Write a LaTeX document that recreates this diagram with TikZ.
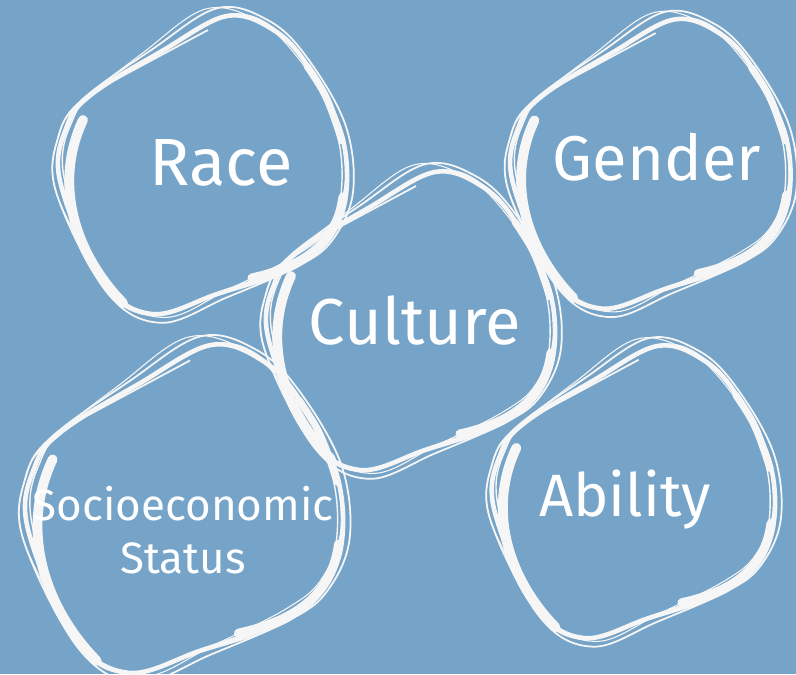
\documentclass[tikz,border=0pt]{standalone}
\usepackage{fontspec}
\setmainfont{Fira Sans}
\usepackage{tikz}
\usetikzlibrary{positioning}

\definecolor{bgblue}{RGB}{118,164,200}
\definecolor{chalk}{RGB}{246,246,246}

% outline of one hand drawn loop, centred on the origin
\newcommand{\blobpts}{(0.30,1.50) (0.78,1.35) (1.12,0.98) (1.45,0.30) (1.48,-0.35)
  (1.25,-0.80) (0.90,-1.03) (0.20,-1.28) (-0.45,-1.48) (-0.95,-1.15)
  (-1.37,-0.15) (-1.30,0.40) (-1.05,0.72) (-0.35,1.15)}

% several passes of the loop around a centre #1, scaled by #2
\newcommand{\scribble}[2]{%
  \begin{scope}[shift={#1},scale=#2]
    \draw[chalk,line width=1.3pt] plot[smooth cycle,tension=0.6] coordinates {\blobpts};
    \draw[chalk,line width=0.5pt,rotate=4,scale=1.04] plot[smooth cycle,tension=0.6] coordinates {\blobpts};
    \draw[chalk,line width=0.4pt,rotate=-3,xscale=0.97,yscale=1.02] plot[smooth cycle,tension=0.6] coordinates {\blobpts};
    \draw[chalk,line width=0.3pt,rotate=7,scale=1.01,shift={(-0.04,0.03)}] plot[smooth cycle,tension=0.6] coordinates {\blobpts};
    % brush strokes and a stray line
    \draw[chalk,line width=2.8pt,line cap=round] (-1.14,0.46) .. controls (-1.45,-0.20) and (-1.20,-0.90) .. (-0.74,-1.37);
    \draw[chalk,line width=2.6pt,line cap=round] (1.46,-0.31) .. controls (1.40,-0.75) and (1.10,-1.00) .. (0.55,-1.12);
    \draw[chalk,line width=2pt,line cap=round] (1.10,1.00) .. controls (1.30,0.70) .. (1.45,0.25);
    \draw[chalk,line width=0.5pt] (-0.82,0.86) -- (0.11,1.36);
  \end{scope}}

\begin{document}
\begin{tikzpicture}
  [
   lbl/.style={text=white,font=\fontsize{#1}{#1}\selectfont,inner sep=0pt},
   small/.style={text=white,font=\fontsize{12.5}{15}\selectfont,align=center,inner sep=0pt}
  ]
   \fill[bgblue] (0,0) rectangle (7.96,6.74);
   \useasboundingbox (0,0) rectangle (7.96,6.74);

   % centres of the loops
   \coordinate (racec)    at (1.97,5.08);
   \coordinate (genderc)  at (6.45,5.09);
   \coordinate (culturec) at (4.05,3.52);
   \coordinate (socioc)   at (1.78,1.64);
   \coordinate (abilityc) at (6.28,1.81);

   \scribble{(racec)}{1}
   \scribble{(genderc)}{0.97}
   \scribble{(culturec)}{1}
   \scribble{(socioc)}{1.1}
   \scribble{(abilityc)}{0.98}

   \node[lbl=19]   (race)    at (2.21,5.11) {Race};
   \node[lbl=18]   (gender)  at (6.57,5.17) {Gender};
   \node[lbl=18.5] (culture) at (4.15,3.54) {Culture};
   \node[small]    (socio)   at (1.83,1.44) {Socioeconomic\\Status};
   \node[lbl=17]   (ability) at (6.25,1.74) {Ability};

\end{tikzpicture}
\end{document}
